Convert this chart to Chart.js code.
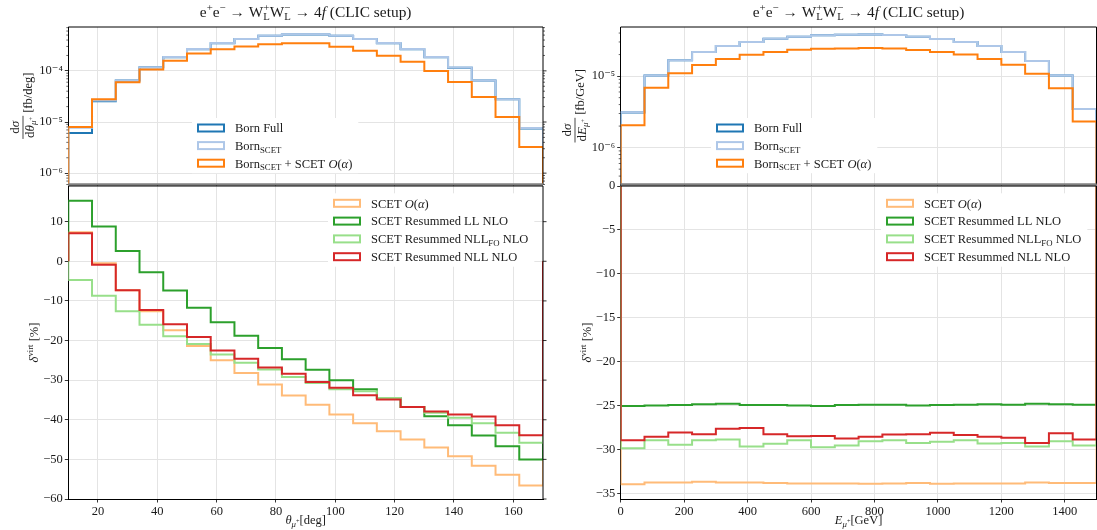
<!DOCTYPE html>
<html>
<head>
<meta charset="utf-8">
<script src="https://cdn.jsdelivr.net/npm/chart.js@4.4.1/dist/chart.umd.min.js"></script>
<style>
  body { margin: 0; background: #fff; width: 1097px; height: 530px; position: relative; overflow: hidden; }
  canvas { position: absolute; }
</style>
</head>
<body>
<canvas id="thetaTop" width="560" height="190" style="left:0;top:0"></canvas>
<canvas id="energyTop" width="537" height="190" style="left:560px;top:0"></canvas>
<canvas id="thetaBottom" width="560" height="350" style="left:0;top:180px"></canvas>
<canvas id="energyBottom" width="537" height="350" style="left:560px;top:180px"></canvas>
<script>
// ---- binning ----
const thetaEdges = [10, 18, 26, 34, 42, 50, 58, 66, 74, 82, 90, 98, 106, 114, 122, 130, 138, 146, 154, 162, 170];
const energyEdges = [0, 75, 150, 225, 300, 375, 450, 525, 600, 675, 750, 825, 900, 975, 1050, 1125, 1200, 1275, 1350, 1425, 1500];

// ---- differential cross sections, muon angle [fb/deg] ----
const thetaBornFull = [6.1e-6, 2.55e-5, 6.45e-5, 1.17e-4, 1.85e-4, 2.65e-4, 3.48e-4, 4.18e-4, 4.85e-4, 5.16e-4, 5.16e-4, 4.84e-4, 4.18e-4, 3.48e-4, 2.65e-4, 1.85e-4, 1.15e-4, 6.45e-5, 2.77e-5, 7.5e-6];
const thetaBornScet = [7.7e-6, 2.62e-5, 6.5e-5, 1.18e-4, 1.86e-4, 2.66e-4, 3.49e-4, 4.19e-4, 4.86e-4, 5.18e-4, 5.18e-4, 4.85e-4, 4.19e-4, 3.49e-4, 2.66e-4, 1.86e-4, 1.16e-4, 6.5e-5, 2.79e-5, 7.6e-6];
const thetaBornScetNlo = [7.98e-6, 2.79e-5, 6.0e-5, 1.06e-4, 1.57e-4, 2.19e-4, 2.63e-4, 3.0e-4, 3.31e-4, 3.45e-4, 3.45e-4, 2.96e-4, 2.47e-4, 1.97e-4, 1.5e-4, 9.9e-5, 6.08e-5, 3.09e-5, 1.25e-5, 3.24e-6];

// ---- differential cross sections, muon energy [fb/GeV] ----
const energyBornFull = [3.11e-6, 1.02e-5, 1.66e-5, 2.17e-5, 2.64e-5, 3.0e-5, 3.34e-5, 3.56e-5, 3.72e-5, 3.79e-5, 3.82e-5, 3.76e-5, 3.56e-5, 3.31e-5, 3.0e-5, 2.64e-5, 2.17e-5, 1.62e-5, 1.02e-5, 3.47e-6];
const energyBornScet = [3.12e-6, 1.02e-5, 1.66e-5, 2.17e-5, 2.64e-5, 3.0e-5, 3.34e-5, 3.56e-5, 3.72e-5, 3.79e-5, 3.82e-5, 3.76e-5, 3.56e-5, 3.31e-5, 3.0e-5, 2.64e-5, 2.17e-5, 1.62e-5, 1.02e-5, 3.48e-6];
const energyBornScetNlo = [2.06e-6, 6.85e-6, 1.1e-5, 1.43e-5, 1.73e-5, 1.99e-5, 2.17e-5, 2.34e-5, 2.42e-5, 2.44e-5, 2.47e-5, 2.44e-5, 2.32e-5, 2.17e-5, 2.01e-5, 1.73e-5, 1.44e-5, 1.08e-5, 6.79e-6, 2.32e-6];

// ---- virtual corrections, muon angle [%] ----
const thetaScetNlo = [7.3, -0.5, -7.3, -12.6, -17.4, -21.4, -25.0, -28.2, -31.1, -33.9, -36.2, -38.7, -40.9, -42.9, -45.0, -47.0, -49.2, -51.6, -53.9, -56.6];
const thetaResLL = [15.3, 8.8, 2.6, -2.8, -7.4, -11.7, -15.4, -18.8, -21.9, -24.7, -27.4, -30.0, -32.3, -34.5, -36.8, -39.1, -41.4, -44.0, -46.7, -50.0];
const thetaResNLLfo = [-4.7, -8.7, -12.6, -16.0, -18.9, -20.9, -23.5, -25.6, -27.3, -29.2, -30.7, -32.3, -32.8, -34.5, -36.8, -38.2, -39.5, -40.9, -43.3, -45.8];
const thetaResNLL = [7.1, -0.9, -7.3, -12.3, -15.9, -19.1, -22.5, -24.6, -26.8, -28.4, -30.5, -31.9, -33.8, -34.9, -36.8, -37.9, -38.7, -39.2, -41.4, -43.9];

// ---- virtual corrections, muon energy [%] ----
const energyScetNlo = [-33.9, -33.7, -33.7, -33.6, -33.7, -33.7, -33.75, -33.8, -33.8, -33.8, -33.85, -33.8, -33.75, -33.85, -33.8, -33.8, -33.8, -33.7, -33.75, -33.75];
const energyResLL = [-25.0, -24.95, -24.9, -24.8, -24.75, -24.9, -24.9, -24.95, -25.0, -24.9, -24.85, -24.85, -24.95, -24.9, -24.85, -24.8, -24.85, -24.75, -24.8, -24.85];
const energyResNLLfo = [-29.8, -28.9, -29.4, -28.9, -28.8, -29.6, -29.3, -28.9, -29.7, -29.5, -29.0, -28.9, -29.2, -29.05, -28.9, -29.25, -29.2, -29.6, -29.0, -29.5];
const energyResNLL = [-28.9, -28.5, -28.0, -28.2, -27.6, -27.5, -28.2, -28.45, -28.4, -28.7, -28.5, -28.25, -28.2, -28.05, -28.3, -28.5, -28.6, -29.2, -28.1, -28.8];

// ---- ticks ----
const thetaTicks = [20, 40, 60, 80, 100, 120, 140, 160];
const energyTicks = [0, 200, 400, 600, 800, 1000, 1200, 1400];
const thetaLogTicks = [1e-6, 1e-5, 1e-4];
const energyLogTicks = [1e-6, 1e-5];
const logTickLabels = { '-6': '10⁻⁶', '-5': '10⁻⁵', '-4': '10⁻⁴' };
const thetaDeltaTicks = [10, 0, -10, -20, -30, -40, -50, -60];
const energyDeltaTicks = [0, -5, -10, -15, -20, -25, -30, -35];

const SERIF = '"Liberation Serif", "DejaVu Serif", serif';
const FS = 12.5;
const INK = '#1a1a1a';
const GRID = '#e4e4e4';

const sup = t => ({ t, s: 0.7, d: -0.38 });
const sub = t => ({ t, s: 0.7, d: 0.22 });
const it = t => ({ t, i: 1 });
const O_ALPHA = [it('O'), { t: '(' }, it('α'), { t: ')' }];

const topLegend = [
  { color: '#1f77b4', segs: [{ t: 'Born Full' }] },
  { color: '#aec7e8', segs: [{ t: 'Born' }, sub('SCET')] },
  { color: '#ff7f0e', segs: [{ t: 'Born' }, sub('SCET'), { t: ' + SCET ' }, ...O_ALPHA] }
];
const bottomLegend = [
  { color: '#ffbb78', segs: [{ t: 'SCET ' }, ...O_ALPHA] },
  { color: '#2ca02c', segs: [{ t: 'SCET Resummed LL NLO' }] },
  { color: '#98df8a', segs: [{ t: 'SCET Resummed NLL' }, sub('FO'), { t: ' NLO' }] },
  { color: '#d62728', segs: [{ t: 'SCET Resummed NLL NLO' }] }
];

const titleSegs = [
  { t: 'e' }, sup('+'), { t: 'e' }, sup('−'), { t: ' → W' },
  { stack: [sup('+'), sub('L')] }, { t: 'W' }, { stack: [sup('−'), sub('L')] },
  { t: ' → 4' }, it('f'), { t: ' (CLIC setup)' }
];

// ---- rich text helpers ----
function segFont(s, size) {
  return (s.i ? 'italic ' : '') + (size * (s.s || 1)) + 'px ' + SERIF;
}
function segsWidth(ctx, segs, size) {
  let w = 0;
  for (const s of segs) {
    const parts = s.stack || [s];
    w += Math.max(...parts.map(q => { ctx.font = segFont(q, size); return ctx.measureText(q.t).width; }));
  }
  return w;
}
function drawSegs(ctx, x, y, segs, size) {
  ctx.textBaseline = 'alphabetic';
  ctx.textAlign = 'left';
  for (const s of segs) {
    const parts = s.stack || [s];
    let w = 0;
    for (const q of parts) {
      ctx.font = segFont(q, size);
      ctx.fillText(q.t, x, y + (q.d || 0) * size);
      w = Math.max(w, ctx.measureText(q.t).width);
    }
    x += w;
  }
  return x;
}

// outline of a histogram, closed down to `base` at both ends
function stepPoints(edges, vals, base) {
  const pts = [{ x: edges[0], y: base }];
  vals.forEach((v, i) => pts.push({ x: edges[i], y: v }));
  pts.push({ x: edges[edges.length - 1], y: base });
  return pts;
}

function histSet(label, edges, vals, base, color, order) {
  return {
    label, data: stepPoints(edges, vals, base), borderColor: color,
    borderWidth: 2, pointRadius: 0, stepped: true, fill: false, order
  };
}

const fmtNum = v => (v < 0 ? '−' + Math.abs(v) : String(v));

// per-canvas extras: legend, titles, frame
const decor = {};

const decorPlugin = {
  id: 'decor',
  afterDraw(chart) {
    const d = decor[chart.canvas.id];
    const { ctx, chartArea: a } = chart;
    const y = chart.scales.y;
    ctx.save();

    // frame (left/bottom come from the axes)
    ctx.strokeStyle = '#000';
    ctx.lineWidth = 1;
    ctx.beginPath();
    ctx.moveTo(a.left, a.top);
    ctx.lineTo(a.right, a.top);
    ctx.lineTo(a.right, a.bottom);
    ctx.stroke();

    // right-hand tick marks
    ctx.lineWidth = 0.8;
    y.ticks.forEach(t => {
      const py = y.getPixelForValue(t.value);
      ctx.beginPath(); ctx.moveTo(a.right, py); ctx.lineTo(a.right + 3.5, py); ctx.stroke();
    });
    if (d.log) {
      ctx.lineWidth = 0.6;
      for (let e = -7; e <= -3; e++) {
        for (let m = 2; m <= 9; m++) {
          const v = m * Math.pow(10, e);
          if (v < y.min || v > y.max) continue;
          const py = y.getPixelForValue(v);
          ctx.beginPath();
          ctx.moveTo(a.left - 2, py); ctx.lineTo(a.left, py);
          ctx.moveTo(a.right, py); ctx.lineTo(a.right + 2, py);
          ctx.stroke();
        }
      }
      // separator between the two panels
      ctx.strokeStyle = '#808080';
      ctx.lineWidth = 2.5;
      ctx.beginPath(); ctx.moveTo(a.left, a.bottom); ctx.lineTo(a.right, a.bottom); ctx.stroke();
    }

    ctx.fillStyle = INK;

    // legend
    const L = d.legend;
    const tw = Math.max(...L.items.map(item => segsWidth(ctx, item.segs, FS)));
    const n = L.items.length;
    ctx.fillStyle = '#fff';
    ctx.fillRect(L.x - 6, L.y - 10, 37 + tw + 12, (n - 1) * L.dy + 20);
    L.items.forEach((item, i) => {
      const cy = L.y + i * L.dy;
      ctx.strokeStyle = item.color;
      ctx.lineWidth = 2;
      ctx.strokeRect(L.x, cy - 3.5, 26, 7);
      ctx.fillStyle = INK;
      drawSegs(ctx, L.x + 37, cy + 4.3, item.segs, FS);
    });

    // column title
    if (d.title) {
      const w = segsWidth(ctx, titleSegs, 15.4);
      drawSegs(ctx, (a.left + a.right) / 2 - w / 2, 17, titleSegs, 15.4);
    }

    // y axis title
    ctx.save();
    ctx.translate(d.ylab.x, (a.top + a.bottom) / 2 + (d.ylab.dy || 0));
    ctx.rotate(-Math.PI / 2);
    if (d.ylab.num) {
      const wn = segsWidth(ctx, d.ylab.num, 13);
      const wd = segsWidth(ctx, d.ylab.den, 13);
      const wf = Math.max(wn, wd) + 2;
      const wu = segsWidth(ctx, d.ylab.unit, FS);
      const x0 = -(wf + 3 + wu) / 2;
      ctx.fillRect(x0, -0.4, wf, 0.8);
      drawSegs(ctx, x0 + (wf - wn) / 2, -4, d.ylab.num, 13);
      drawSegs(ctx, x0 + (wf - wd) / 2, 10.5, d.ylab.den, 13);
      drawSegs(ctx, x0 + wf + 3, 8.5, d.ylab.unit, FS);
    } else {
      const w = segsWidth(ctx, d.ylab.segs, FS);
      drawSegs(ctx, -w / 2, 4, d.ylab.segs, FS);
    }
    ctx.restore();

    // x axis title
    if (d.xlab) {
      const w = segsWidth(ctx, d.xlab, FS);
      drawSegs(ctx, (a.left + a.right) / 2 - w / 2, d.xlabY, d.xlab, FS);
    }
    ctx.restore();
  }
};

function makeChart(id, o) {
  return new Chart(document.getElementById(id), {
    type: 'line',
    data: { datasets: o.datasets },
    options: {
      responsive: false,
      animation: false,
      devicePixelRatio: 1,
      layout: { padding: o.padding },
      plugins: { legend: { display: false }, tooltip: { enabled: false } },
      scales: {
        x: {
          type: 'linear', min: o.xMin, max: o.xMax,
          afterBuildTicks: s => { s.ticks = o.xTicks.map(v => ({ value: v })); },
          afterFit: s => { s.height = o.xHeight; s.paddingLeft = 0; s.paddingRight = 0; },
          ticks: {
            display: o.xLabels, autoSkip: false, maxRotation: 0, padding: 2,
            color: INK, font: { family: SERIF, size: FS }, callback: v => fmtNum(v)
          },
          grid: { color: GRID, lineWidth: 1, tickColor: '#000', tickLength: 3.5, tickWidth: 0.8 },
          border: { display: !o.log, color: '#000', width: 1 }
        },
        y: {
          type: o.log ? 'logarithmic' : 'linear', min: o.yMin, max: o.yMax,
          afterBuildTicks: s => { s.ticks = o.yTicks.map(v => ({ value: v })); },
          afterFit: s => { s.width = o.yWidth; s.paddingTop = 0; s.paddingBottom = 0; },
          ticks: {
            autoSkip: false, padding: 2, color: INK, font: { family: SERIF, size: FS },
            callback: v => o.log ? logTickLabels[String(Math.round(Math.log10(v)))] : fmtNum(v)
          },
          grid: { color: GRID, lineWidth: 1, tickColor: '#000', tickLength: 3.5, tickWidth: 0.8 },
          border: { display: true, color: '#000', width: 1 }
        }
      }
    },
    plugins: [decorPlugin]
  });
}

const thetaSigmaLabel = {
  x: 23, dy: 0,
  num: [{ t: 'd' }, it('σ')],
  den: [{ t: 'd' }, it('θ'), { t: 'μ', i: 1, s: 0.7, d: 0.22 }, { t: '+', s: 0.5, d: -0.05 }],
  unit: [{ t: '[fb/deg]' }]
};
const energySigmaLabel = {
  x: 15, dy: 0,
  num: [{ t: 'd' }, it('σ')],
  den: [{ t: 'd' }, it('E'), { t: 'μ', i: 1, s: 0.7, d: 0.22 }, { t: '+', s: 0.5, d: -0.05 }],
  unit: [{ t: '[fb/GeV]' }]
};
const deltaLabel = [it('δ'), sup('virt'), { t: ' [%]' }];

decor.thetaTop = { log: true, title: true, ylab: thetaSigmaLabel, legend: { x: 198, y: 128, dy: 17.6, items: topLegend } };
decor.energyTop = { log: true, title: true, ylab: energySigmaLabel, legend: { x: 157, y: 128, dy: 17.6, items: topLegend } };
decor.thetaBottom = {
  ylab: { x: 34, segs: deltaLabel }, legend: { x: 334, y: 23.3, dy: 17.8, items: bottomLegend },
  xlab: [it('θ'), { t: 'μ', i: 1, s: 0.7, d: 0.22 }, { t: '+', s: 0.5, d: -0.05 }, { t: '[deg]' }], xlabY: 344
};
decor.energyBottom = {
  ylab: { x: 27, segs: deltaLabel }, legend: { x: 327, y: 23.3, dy: 17.8, items: bottomLegend },
  xlab: [it('E'), { t: 'μ', i: 1, s: 0.7, d: 0.22 }, { t: '+', s: 0.5, d: -0.05 }, { t: '[GeV]' }], xlabY: 344
};

const LOG_BASE = 1e-9;

makeChart('thetaTop', {
  log: true, xLabels: false,
  padding: { top: 27, right: 17, bottom: 0, left: 0 }, xHeight: 5.5, yWidth: 68.3,
  xMin: 10, xMax: 170, xTicks: thetaTicks, yMin: 6.0e-7, yMax: 7.2e-4, yTicks: thetaLogTicks,
  datasets: [
    histSet('Born Full', thetaEdges, thetaBornFull, LOG_BASE, '#1f77b4', 3),
    histSet('Born SCET', thetaEdges, thetaBornScet, LOG_BASE, '#aec7e8', 2),
    histSet('Born SCET + SCET O(α)', thetaEdges, thetaBornScetNlo, LOG_BASE, '#ff7f0e', 1)
  ]
});

makeChart('energyTop', {
  log: true, xLabels: false,
  padding: { top: 27, right: 0.5, bottom: 0, left: 0 }, xHeight: 5.5, yWidth: 60.7,
  xMin: 0, xMax: 1500, xTicks: energyTicks, yMin: 3.05e-7, yMax: 4.86e-5, yTicks: energyLogTicks,
  datasets: [
    histSet('Born Full', energyEdges, energyBornFull, LOG_BASE, '#1f77b4', 3),
    histSet('Born SCET', energyEdges, energyBornScet, LOG_BASE, '#aec7e8', 2),
    histSet('Born SCET + SCET O(α)', energyEdges, energyBornScetNlo, LOG_BASE, '#ff7f0e', 1)
  ]
});

makeChart('thetaBottom', {
  log: false, xLabels: true,
  padding: { top: 6, right: 17, bottom: 0, left: 0 }, xHeight: 31, yWidth: 68.3,
  xMin: 10, xMax: 170, xTicks: thetaTicks, yMin: -60, yMax: 19, yTicks: thetaDeltaTicks,
  datasets: [
    histSet('SCET O(α)', thetaEdges, thetaScetNlo, 0, '#ffbb78', 4),
    histSet('SCET Resummed LL NLO', thetaEdges, thetaResLL, 0, '#2ca02c', 3),
    histSet('SCET Resummed NLL_FO NLO', thetaEdges, thetaResNLLfo, 0, '#98df8a', 2),
    histSet('SCET Resummed NLL NLO', thetaEdges, thetaResNLL, 0, '#d62728', 1)
  ]
});

makeChart('energyBottom', {
  log: false, xLabels: true,
  padding: { top: 6, right: 0.5, bottom: 0, left: 0 }, xHeight: 31, yWidth: 60.7,
  xMin: 0, xMax: 1500, xTicks: energyTicks, yMin: -35.57, yMax: 0, yTicks: energyDeltaTicks,
  datasets: [
    histSet('SCET O(α)', energyEdges, energyScetNlo, 0, '#ffbb78', 4),
    histSet('SCET Resummed LL NLO', energyEdges, energyResLL, 0, '#2ca02c', 3),
    histSet('SCET Resummed NLL_FO NLO', energyEdges, energyResNLLfo, 0, '#98df8a', 2),
    histSet('SCET Resummed NLL NLO', energyEdges, energyResNLL, 0, '#d62728', 1)
  ]
});
</script>
</body>
</html>
